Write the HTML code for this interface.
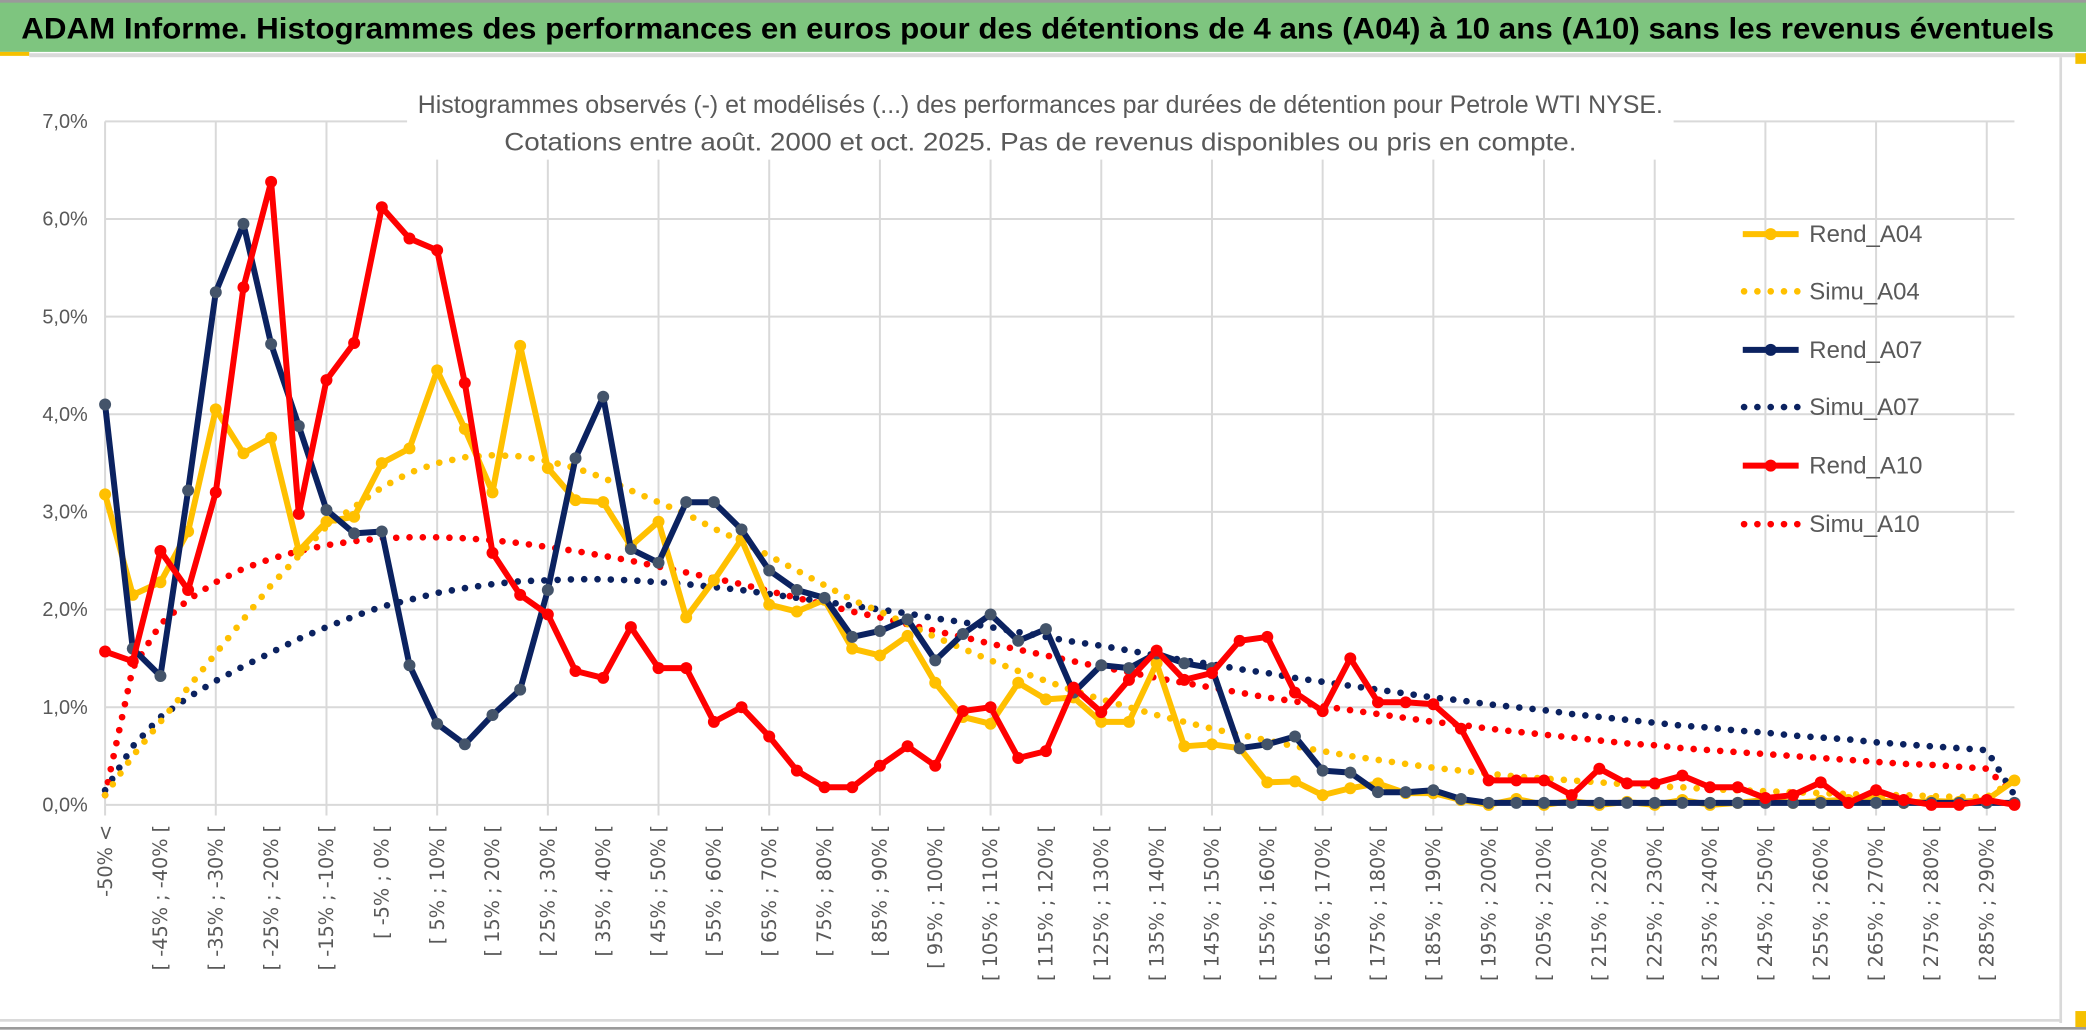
<!DOCTYPE html>
<html><head><meta charset="utf-8"><style>
html,body{margin:0;padding:0;background:#fff;}
svg{display:block;}
</style></head><body>
<svg id="chart" xmlns="http://www.w3.org/2000/svg" width="2086" height="1033" viewBox="0 0 1568 776.5" preserveAspectRatio="none" font-family="'Liberation Sans', sans-serif">
<rect x="0" y="0" width="1568" height="776.5" fill="#fff"/>
<rect x="0" y="0" width="1568" height="39" fill="#7ec57f"/>
<rect x="0" y="0" width="1568" height="2" fill="#9a9a9a"/>
<rect x="0" y="39" width="22" height="3" fill="#f5c000"/>
<rect x="22" y="40" width="1546" height="3" fill="#d9d9d9"/>
<text x="16" y="29" font-size="22" font-weight="bold" fill="#000" textLength="1528" lengthAdjust="spacingAndGlyphs">ADAM Informe. Histogrammes des performances en euros pour des détentions de 4 ans (A04) à 10 ans (A10) sans les revenus éventuels</text>
<rect x="1548" y="43" width="2" height="726" fill="#d9d9d9"/>
<rect x="0" y="766" width="1550" height="2" fill="#d9d9d9"/>
<rect x="0" y="772" width="1568" height="2" fill="#9a9a9a"/>
<rect x="1560" y="40" width="8" height="8" fill="#f5c000"/>
<rect x="1560" y="760" width="8" height="12" fill="#f5c000"/>
<g id="grid"></g>
<rect x="306" y="56" width="952" height="64" fill="#fff"/>
<text x="782" y="85" font-size="19" fill="#595959" text-anchor="middle" textLength="936" lengthAdjust="spacingAndGlyphs">Histogrammes observés (-) et modélisés (...) des performances par durées de détention pour Petrole WTI NYSE.</text>
<text x="782" y="113" font-size="19" fill="#595959" text-anchor="middle" textLength="806" lengthAdjust="spacingAndGlyphs">Cotations entre août. 2000 et oct. 2025. Pas de revenus disponibles ou pris en compte.</text>
<g id="yaxis"></g>
<g id="xaxis"></g>
<g id="series"></g>
<g id="legend"></g>
</svg>
<script>
const categoryLabels = ["-50% <"];
for (let k = 1; k < 70; k++) { categoryLabels.push("[ " + (-55 + 5 * k) + "% ; " + (-50 + 5 * k) + "% ["); }
const yTicks = [0, 1, 2, 3, 4, 5, 6, 7];
const yTickLabels = ["0,0%", "1,0%", "2,0%", "3,0%", "4,0%", "5,0%", "6,0%", "7,0%"];
const rendA04 = [3.18,2.15,2.28,2.8,4.05,3.6,3.76,2.6,2.9,2.95,3.5,3.65,4.45,3.85,3.2,4.7,3.45,3.12,3.1,2.65,2.9,1.92,2.3,2.72,2.05,1.98,2.1,1.6,1.53,1.73,1.25,0.9,0.83,1.25,1.08,1.1,0.85,0.85,1.45,0.6,0.62,0.58,0.23,0.24,0.1,0.17,0.22,0.12,0.12,0.05,0.0,0.06,0.0,0.04,0.0,0.03,0.0,0.05,0.0,0.02,0.05,0.02,0.04,0.05,0.05,0.02,0.04,0.03,0.05,0.25];
const simuA04 = [0.1,0.5,0.85,1.2,1.55,1.9,2.25,2.55,2.85,3.05,3.25,3.4,3.5,3.56,3.58,3.57,3.52,3.45,3.35,3.22,3.1,2.98,2.83,2.7,2.55,2.4,2.25,2.1,1.98,1.85,1.72,1.6,1.48,1.37,1.27,1.17,1.08,1.0,0.92,0.85,0.78,0.72,0.66,0.6,0.55,0.5,0.46,0.42,0.38,0.35,0.32,0.29,0.27,0.25,0.23,0.21,0.19,0.18,0.16,0.15,0.14,0.13,0.12,0.11,0.1,0.1,0.09,0.08,0.08,0.25];
const rendA07 = [4.1,1.6,1.32,3.22,5.25,5.95,4.72,3.88,3.02,2.78,2.8,1.43,0.83,0.62,0.92,1.18,2.2,3.55,4.18,2.62,2.48,3.1,3.1,2.82,2.4,2.2,2.12,1.72,1.78,1.9,1.48,1.75,1.95,1.68,1.8,1.15,1.43,1.4,1.55,1.45,1.4,0.58,0.62,0.7,0.35,0.33,0.13,0.13,0.15,0.06,0.02,0.02,0.02,0.02,0.02,0.02,0.02,0.02,0.02,0.02,0.02,0.02,0.02,0.02,0.02,0.02,0.02,0.02,0.02,0.02];
const simuA07 = [0.15,0.6,0.9,1.1,1.27,1.42,1.56,1.7,1.82,1.93,2.03,2.1,2.17,2.22,2.26,2.29,2.3,2.31,2.31,2.3,2.28,2.26,2.23,2.2,2.16,2.12,2.08,2.04,2.0,1.96,1.91,1.87,1.82,1.77,1.72,1.67,1.63,1.58,1.53,1.48,1.44,1.39,1.35,1.3,1.26,1.22,1.18,1.14,1.1,1.07,1.03,1.0,0.97,0.93,0.9,0.87,0.84,0.81,0.79,0.76,0.74,0.71,0.69,0.67,0.64,0.62,0.6,0.58,0.56,0.1];
const rendA10 = [1.57,1.47,2.6,2.2,3.2,5.3,6.38,2.98,4.35,4.73,6.12,5.8,5.68,4.32,2.58,2.15,1.95,1.37,1.3,1.82,1.4,1.4,0.85,1.0,0.7,0.35,0.18,0.18,0.4,0.6,0.4,0.96,1.0,0.48,0.55,1.2,0.95,1.28,1.58,1.28,1.35,1.68,1.72,1.15,0.96,1.5,1.05,1.05,1.03,0.78,0.25,0.25,0.25,0.1,0.37,0.22,0.22,0.3,0.18,0.18,0.07,0.1,0.23,0.02,0.15,0.05,0.0,0.0,0.05,0.0];
const simuA10 = [0.1,1.4,1.85,2.1,2.28,2.42,2.52,2.6,2.66,2.7,2.73,2.74,2.74,2.73,2.71,2.68,2.64,2.6,2.55,2.5,2.44,2.38,2.32,2.26,2.19,2.12,2.05,1.98,1.92,1.85,1.78,1.72,1.65,1.59,1.53,1.47,1.41,1.36,1.3,1.25,1.2,1.15,1.1,1.06,1.01,0.97,0.93,0.89,0.85,0.82,0.78,0.75,0.72,0.69,0.66,0.63,0.61,0.58,0.56,0.54,0.52,0.5,0.48,0.46,0.44,0.42,0.41,0.39,0.37,0.1];
const legendNames = ["Rend_A04","Simu_A04","Rend_A07","Simu_A07","Rend_A10","Simu_A10"];

const NS = "http://www.w3.org/2000/svg";
const X0 = 79, DX = 20.8, Y0 = 605, DY = 73.4;
function xScale(i) { return X0 + DX * i; }
function yScale(v) { return Y0 - DY * v; }
function mk(tag, attrs, parent) {
  const e = document.createElementNS(NS, tag);
  for (const k in attrs) e.setAttribute(k, attrs[k]);
  parent.appendChild(e);
  return e;
}
const grid = document.getElementById('grid');
const yaxis = document.getElementById('yaxis');
const xaxis = document.getElementById('xaxis');
const series = document.getElementById('series');
const legend = document.getElementById('legend');
const xEnd = xScale(categoryLabels.length - 1);

yTicks.forEach((t, i) => {
  const gl = mk('line', {x1: X0, x2: xEnd, y1: yScale(t), y2: yScale(t), stroke: '#d9d9d9', 'stroke-width': 1.5}, grid);
  
  
  const tx = mk('text', {x: 66, y: yScale(t) + 5, 'font-size': 15, fill: '#595959', 'text-anchor': 'end'}, yaxis);
  tx.textContent = yTickLabels[i];
  
  
});
categoryLabels.forEach((lab, i) => {
  if (i % 4 === 0) {
    const vl = mk('line', {x1: xScale(i), x2: xScale(i), y1: yScale(7), y2: Y0 + 8, stroke: '#d9d9d9', 'stroke-width': 1.5}, grid);
    
    
  }
  if (i % 2 === 0) {
    const tx = mk('text', {transform: 'translate(' + (xScale(i) + 5) + ',620) rotate(-90)', 'font-size': 14.5, fill: '#595959', 'text-anchor': 'end', 'font-family': "'DejaVu Sans', sans-serif"}, xaxis);
    tx.textContent = lab;
    
    
  }
});

function pts(arr) { return arr.map((v, i) => xScale(i).toFixed(1) + ',' + yScale(v).toFixed(1)).join(' '); }
function drawSim(arr, color, name) {
  const p = mk('polyline', {points: pts(arr), fill: 'none', stroke: color, 'stroke-width': 5, 'stroke-linecap': 'round', 'stroke-dasharray': '0 10'}, series);
  
  
}
function drawRend(arr, color, mcolor, name) {
  const p = mk('polyline', {points: pts(arr), fill: 'none', stroke: color, 'stroke-width': 4.5, 'stroke-linejoin': 'round'}, series);
  
  
  arr.forEach((v, i) => {
    const c = mk('circle', {cx: xScale(i), cy: yScale(v), r: 4.5, fill: mcolor}, series);
    
    
  });
}
drawSim(simuA07, '#0b2260', 'simu-a07-line');
drawSim(simuA10, '#ff0000', 'simu-a10-line');
drawSim(simuA04, '#ffc000', 'simu-a04-line');
drawRend(rendA04, '#ffc000', '#ffc000', 'rend-a04-line');
drawRend(rendA07, '#0b2260', '#44546a', 'rend-a07-line');
drawRend(rendA10, '#ff0000', '#ff0000', 'rend-a10-line');

const legColors = ['#ffc000','#ffc000','#0b2260','#0b2260','#ff0000','#ff0000'];
const legY = [176, 219, 263, 306, 350, 394];
legendNames.forEach((n, i) => {
  const y = legY[i];
  let l;
  if (i % 2 === 0) {
    l = mk('line', {x1: 1310, x2: 1352, y1: y, y2: y, stroke: legColors[i], 'stroke-width': 4.5}, legend);
    mk('circle', {cx: 1331, cy: y, r: 4.5, fill: legColors[i]}, legend);
  } else {
    l = mk('line', {x1: 1311, x2: 1352, y1: y, y2: y, stroke: legColors[i], 'stroke-width': 5, 'stroke-linecap': 'round', 'stroke-dasharray': '0 10'}, legend);
  }
  
  
  const t = mk('text', {x: 1360, y: y + 6, 'font-size': 18, fill: '#595959'}, legend);
  t.textContent = n;
  
  
});
</script>
</body></html>
